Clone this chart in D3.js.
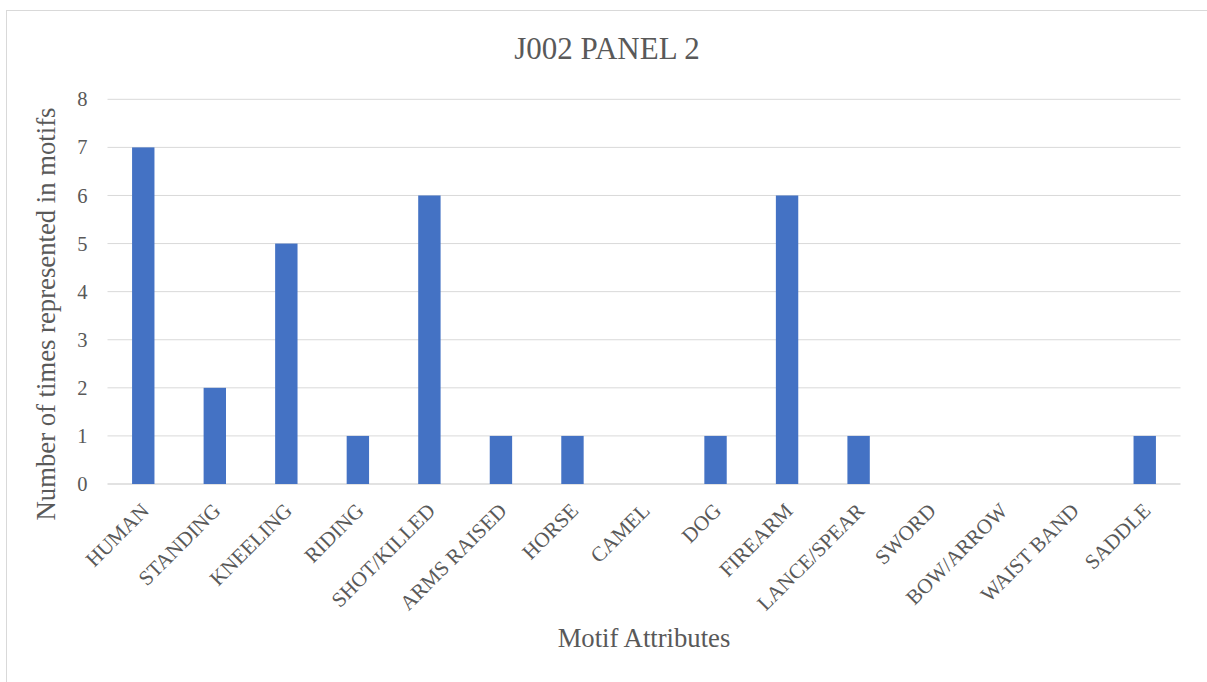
<!DOCTYPE html>
<html>
<head>
<meta charset="utf-8">
<script src="https://cdn.jsdelivr.net/npm/d3@7"></script>
<style>
  html, body { margin: 0; padding: 0; background: #fff; }
  svg { display: block; }
</style>
</head>
<body>
<svg id="chart" width="1207" height="682"></svg>
<script>
// Motif attribute counts for panel 2
const categories = ["HUMAN", "STANDING", "KNEELING", "RIDING", "SHOT/KILLED", "ARMS RAISED",
  "HORSE", "CAMEL", "DOG", "FIREARM", "LANCE/SPEAR", "SWORD", "BOW/ARROW", "WAIST BAND", "SADDLE"];
const counts = [7, 2, 5, 1, 6, 1, 1, 0, 1, 6, 1, 0, 0, 0, 1];
const yTicks = [0, 1, 2, 3, 4, 5, 6, 7, 8];

const chartTitle = "J002 PANEL 2";
const xTitle = "Motif Attributes";
const yTitle = "Number of times represented in motifs";

const FONT = "'Liberation Serif', 'Times New Roman', serif";
const INK = "#595959";

const svg = d3.select("#chart");
const plot = { left: 107.5, right: 1180.5, top: 99.3, bottom: 484 };

// Chart area outline
svg.append("rect")
  .attr("x", 6.5).attr("y", 10.5)
  .attr("width", 1220).attr("height", 700)
  .attr("fill", "none").attr("stroke", "#d9d9d9").attr("stroke-width", 1);

const gap = 0.687;
const x = d3.scaleBand()
  .domain(categories)
  .range([plot.left, plot.right])
  .paddingInner(gap)
  .paddingOuter(gap / 2);

const y = d3.scaleLinear().domain([0, 8]).range([plot.bottom, plot.top]);

// Horizontal gridlines
svg.append("g")
  .selectAll("line")
  .data(yTicks)
  .join("line")
  .attr("x1", plot.left).attr("x2", plot.right)
  .attr("y1", d => y(d)).attr("y2", d => y(d))
  .attr("stroke", "#d9d9d9")
  .attr("stroke-width", d => d === 0 ? 1.6 : 1);

// Y tick labels
const yAxis = d3.axisLeft(y).tickValues(yTicks).tickSize(0).tickPadding(0).tickFormat(d3.format("d"));
const gy = svg.append("g").attr("transform", `translate(${plot.left - 20},0)`).call(yAxis);
gy.select(".domain").remove();
gy.selectAll("text")
  .attr("font-size", 20.5)
  .attr("fill", INK)
  .style("font-family", FONT);

// Bars
svg.append("g")
  .selectAll("rect")
  .data(categories.map((c, i) => ({ c, v: counts[i] })))
  .join("rect")
  .attr("x", d => x(d.c))
  .attr("width", x.bandwidth())
  .attr("y", d => y(d.v))
  .attr("height", d => y(0) - y(d.v))
  .attr("fill", "#4472c4");

// Category labels, rotated
const xAxis = d3.axisBottom(x).tickSize(0).tickPadding(0);
const gx = svg.append("g").attr("transform", `translate(0,${plot.bottom})`).call(xAxis);
gx.select(".domain").remove();
gx.selectAll("text")
  .attr("font-size", 21)
  .attr("fill", INK)
  .style("font-family", FONT)
  .attr("text-anchor", "end")
  .attr("dy", null)
  .attr("y", null)
  .attr("transform", "translate(7,28) rotate(-45)");

// Titles
svg.append("text")
  .attr("x", 607).attr("y", 59)
  .attr("text-anchor", "middle")
  .attr("font-size", 31)
  .attr("fill", INK)
  .style("font-family", FONT)
  .text(chartTitle);

svg.append("text")
  .attr("x", (plot.left + plot.right) / 2).attr("y", 647)
  .attr("text-anchor", "middle")
  .attr("font-size", 26.7)
  .attr("fill", INK)
  .style("font-family", FONT)
  .text(xTitle);

svg.append("text")
  .attr("transform", "translate(55,314) rotate(-90)")
  .attr("text-anchor", "middle")
  .attr("font-size", 26.7)
  .attr("fill", INK)
  .style("font-family", FONT)
  .text(yTitle);
</script>
</body>
</html>
